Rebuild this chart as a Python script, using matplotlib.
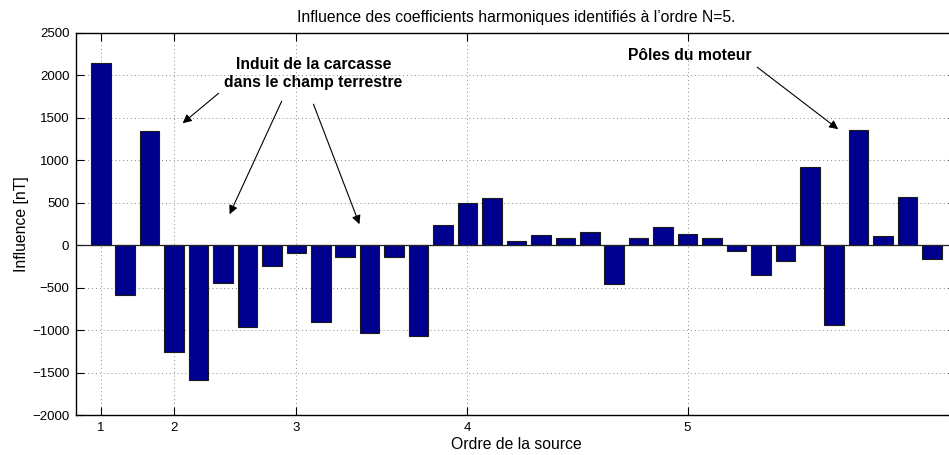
import matplotlib
matplotlib.use("Agg")
import matplotlib.pyplot as plt
import numpy as np

plt.rcParams["font.family"] = ["Liberation Sans", "DejaVu Sans"]

# Influence of each harmonic coefficient (orders 1..5 -> 3+5+7+9+11 coefficients)
influence_nT = [
    2150, -585, 1350,
    -1255, -1593, -448, -960, -248,
    -87, -905, -142, -1031, -142, -1066, 236,
    500, 551, 47, 118, 90, 157, -456, 87, 220,
    138, 87, -63, -350, -189, 924, -936, 1361, 106, 570, -165,
]
order_labels = ["1", "2", "3", "4", "5"]
order_sizes = [3, 5, 7, 9, 11]

positions = np.arange(1, len(influence_nT) + 1)
order_starts = np.concatenate(([1], 1 + np.cumsum(order_sizes)[:-1]))

fig = plt.figure(figsize=(9.49, 4.55), dpi=100)
ax = fig.add_axes([0.0804, 0.0879, 0.9275, 0.8396])

ax.bar(positions, influence_nT, width=0.8, color="#00008F",
       edgecolor="#1a1a1a", linewidth=0.8, zorder=3)
ax.axhline(0, color="#222222", linewidth=0.9, zorder=4)

ax.set_xlim(0, 36)
ax.set_ylim(-2000, 2500)
ax.set_yticks(np.arange(-2000, 2501, 500))
ax.set_xticks(order_starts)
ax.set_xticklabels(order_labels)

ax.grid(True, linestyle=(0, (1, 3)), color="#888888", linewidth=0.7, zorder=0)
ax.tick_params(direction="in", length=6, width=0.8, labelsize=9.5,
               top=True, right=True, pad=5)
for s in ax.spines.values():
    s.set_linewidth(1.0)

ax.set_title("Influence des coefficients harmoniques identifiés à l\u2019ordre N=5.",
             fontsize=11.3, pad=8)
ax.set_xlabel("Ordre de la source", fontsize=11.3, labelpad=2)
ax.set_ylabel("Influence [nT]", fontsize=11.3, labelpad=2)

ax.text(9.70, 2020, "Induit de la carcasse\ndans le champ terrestre",
        ha="center", va="center", fontsize=11.3, fontweight="bold",
        linespacing=1.25, zorder=5)
ax.text(25.1, 2238, "Pôles du moteur", ha="center", va="center",
        fontsize=11.3, fontweight="bold", zorder=5)

arrow = dict(arrowstyle="-|>", color="black", linewidth=0.8,
             mutation_scale=13, shrinkA=0, shrinkB=0)
ax.annotate("", xy=(4.35, 1437), xytext=(5.82, 1790), arrowprops=arrow, zorder=5)
ax.annotate("", xy=(6.27, 365), xytext=(8.40, 1696), arrowprops=arrow, zorder=5)
ax.annotate("", xy=(11.58, 247), xytext=(9.70, 1661), arrowprops=arrow, zorder=5)
ax.annotate("", xy=(31.16, 1367), xytext=(27.85, 2097), arrowprops=arrow, zorder=5)

fig.savefig("out.png", dpi=100)
